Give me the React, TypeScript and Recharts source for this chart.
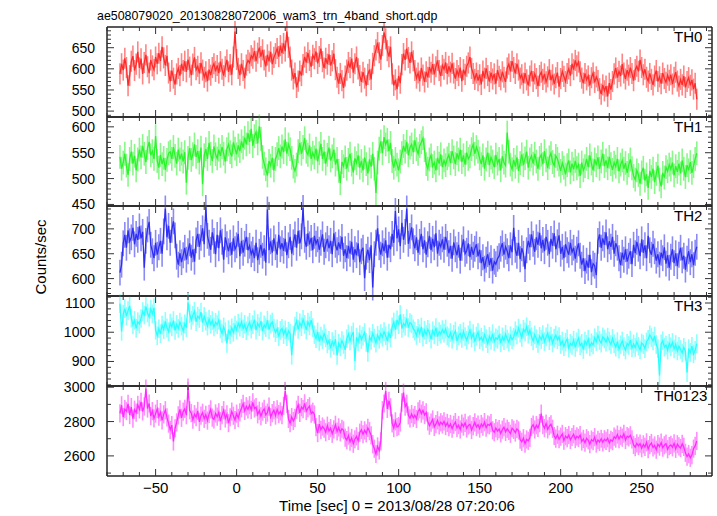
import { LineChart, Line, XAxis, YAxis, ErrorBar } from 'recharts';

const FONT = '"Liberation Sans", Arial, Helvetica, sans-serif';

const title = 'ae508079020_20130828072006_wam3_trn_4band_short.qdp';
const xLabel = 'Time [sec] 0 = 2013/08/28 07:20:06';
const yLabel = 'Counts/sec';

// 1 s bins, first bin centre
const tStart = -72;

const th0 = [
  588,612,597,625,603,560,584,618,630,596,611,640,602,624,588,615,633,605,590,621,
  607,598,628,612,637,619,652,626,608,631,590,571,596,578,563,588,601,584,612,596,
  618,593,622,604,585,611,627,598,606,589,614,597,580,593,571,598,585,603,612,594,
  608,590,617,599,584,605,621,593,610,586,628,688,622,601,585,612,596,578,609,620,
  614,631,625,642,618,637,650,629,645,621,606,633,618,640,611,627,636,648,629,655,
  637,660,642,688,651,628,597,576,590,556,571,595,584,610,628,615,638,620,605,632,
  624,641,613,629,648,617,602,625,611,634,608,619,636,598,580,565,589,572,555,583,
  597,615,603,624,591,612,628,600,584,569,592,578,560,587,598,575,613,631,645,662,
  638,622,655,686,671,643,629,652,588,561,574,552,583,566,610,636,621,648,627,614,
  640,619,596,578,590,571,602,585,569,593,580,604,592,611,587,605,620,596,583,608,
  599,615,588,606,592,613,590,577,596,584,603,571,598,587,606,614,628,601,589,575,
  590,572,586,563,595,578,601,584,570,591,576,588,565,597,582,574,593,580,569,602,
  611,594,618,603,589,612,597,578,586,566,590,574,561,583,595,570,588,577,559,584,
  592,575,588,569,581,598,573,586,564,579,591,558,577,594,582,570,589,600,584,612,
  598,620,607,616,593,578,566,589,574,583,561,579,590,568,581,572,553,540,562,548,
  559,535,566,551,570,588,602,579,594,583,611,590,576,597,585,603,589,572,598,606,
  594,621,603,586,599,580,571,589,575,562,583,596,570,581,565,590,577,568,585,573,
  586,564,580,592,571,559,575,562,583,556,570,579,561,574,552,566,528,
];

const th1 = [
  542,519,531,548,525,507,538,552,529,544,516,537,556,541,563,548,532,559,571,545,
  553,538,582,534,521,546,528,540,517,536,549,552,538,561,544,529,556,537,548,533,
  551,492,540,559,536,547,566,542,553,531,560,489,545,557,538,569,548,534,562,547,
  539,556,544,561,548,533,557,566,551,543,570,558,547,564,553,572,560,579,566,588,
  571,596,563,582,590,568,601,577,542,529,518,506,534,525,540,516,538,547,559,543,
  562,551,576,548,566,557,540,523,515,527,553,569,548,561,578,552,546,564,538,550,
  541,558,533,549,567,538,552,529,546,560,535,543,556,527,538,515,491,532,524,541,
  519,536,548,527,512,539,530,545,521,534,516,541,528,510,537,523,548,519,472,531,
  558,572,549,580,566,575,553,569,534,521,538,527,516,533,549,563,552,571,545,560,
  566,551,574,557,548,563,570,578,555,528,519,537,545,524,531,516,540,529,547,522,
  535,526,539,546,530,553,541,528,549,537,556,532,545,527,550,538,543,557,566,548,
  561,552,539,528,545,519,537,550,526,541,533,522,546,529,538,516,543,531,525,589,
  552,527,518,536,523,541,515,530,547,526,539,552,521,537,544,529,548,533,519,540,
  546,528,553,535,520,541,549,532,525,544,538,527,515,530,521,508,526,535,512,529,
  518,534,520,527,505,531,516,524,538,522,545,529,516,537,526,541,519,533,548,524,
  535,520,542,528,517,531,523,538,514,527,535,519,530,511,526,537,520,505,498,516,
  507,490,512,521,496,508,482,515,503,519,493,509,525,498,485,511,502,522,514,527,
  518,531,506,524,513,529,510,535,519,503,526,516,532,511,524,538,549,
];

const th2 = [
  612,628,671,688,662,697,675,683,702,669,690,678,705,681,694,622,676,699,714,668,
  655,641,672,648,663,676,650,695,741,683,706,672,698,715,687,644,628,651,633,647,
  662,638,655,671,642,659,634,677,690,664,682,701,669,744,686,672,658,693,676,649,
  688,661,697,674,638,683,669,655,672,648,681,659,667,690,645,676,652,670,684,657,
  666,649,658,641,672,637,654,668,646,661,632,739,657,675,652,681,663,648,688,659,
  671,656,680,647,667,684,650,673,689,662,696,671,685,743,678,664,691,669,682,657,
  686,670,679,658,672,689,654,667,680,661,676,649,691,668,657,673,660,684,646,659,
  641,666,650,674,638,659,647,671,633,655,662,601,644,658,637,667,582,649,672,701,
  663,648,671,655,677,642,668,659,690,672,736,681,699,665,712,678,694,741,670,686,
  703,675,661,683,652,674,690,659,677,648,669,686,657,680,663,691,650,672,664,679,
  658,684,670,651,666,640,673,659,647,668,636,662,679,650,656,671,643,664,648,660,
  669,645,658,631,643,620,638,649,627,641,616,634,629,640,645,660,671,648,664,655,
  641,667,653,702,658,646,672,639,661,650,619,657,676,663,689,670,654,683,668,692,
  661,678,655,684,672,649,680,666,691,659,673,687,650,664,641,669,657,648,672,653,
  662,640,658,671,646,628,641,615,636,622,648,613,630,626,607,676,689,662,681,668,
  693,659,675,664,684,650,671,662,641,627,652,638,659,634,646,655,629,668,651,674,
  660,645,679,652,667,641,686,657,648,670,655,636,649,628,652,641,663,630,647,622,
  644,659,631,651,625,648,662,637,646,618,640,655,633,649,627,652,664,
];

const th3 = [
  1098,1003,1062,1081,1055,1074,1090,1048,1025,1041,1013,1036,1028,1047,1071,1059,1088,1066,1052,1079,
  1063,1084,1007,988,1012,995,1024,1009,1037,1015,1002,1031,1018,1040,1006,1027,1013,1035,1021,1004,
  1029,1016,1102,1063,1041,1058,1072,1036,1055,1047,1069,1033,1054,1038,1021,1045,1027,1040,1018,1034,
  1026,1042,1011,996,1018,1002,962,1009,993,1015,1000,1024,1008,1031,1017,1036,1012,1027,1005,1022,
  1034,1011,1026,1043,1007,1030,1019,1038,1004,1025,1016,1041,1009,1028,1035,1014,999,1012,985,1006,
  1013,992,1008,985,1004,996,921,990,1021,1038,1010,1032,1019,1044,1027,1008,1035,1022,1041,1016,
  992,978,1001,969,987,975,995,981,960,972,945,968,955,976,921,962,950,971,958,940,
  978,994,970,989,1001,902,983,968,992,975,987,999,965,931,984,972,996,980,963,990,
  976,995,983,1002,988,970,997,981,1018,1035,1009,1042,1026,1061,1013,1030,1021,1047,1016,1033,
  1028,1012,1004,989,1013,996,1018,983,1007,992,1010,998,976,1005,991,1016,985,1002,994,1009,
  997,1011,988,982,999,976,993,1004,970,988,996,979,1002,985,973,991,1007,980,995,968,
  987,1000,974,983,969,992,978,961,986,973,995,968,981,976,990,964,984,971,993,977,
  966,988,975,983,1005,991,1014,997,982,1010,1001,1019,993,1007,985,970,991,978,962,986,
  975,992,968,984,997,971,987,963,980,990,974,985,958,970,951,966,977,946,962,955,
  973,948,967,980,954,962,941,970,959,976,950,964,957,981,968,990,972,963,984,977,
  966,983,970,958,979,961,949,968,942,957,970,951,939,962,955,973,946,960,948,967,
  952,940,963,958,944,967,976,991,982,970,987,958,944,852,960,971,949,956,939,962,
  950,965,943,958,936,952,941,929,948,935,862,944,931,952,926,938,961,
];

const th0123 = [
  2848,2895,2826,2872,2861,2903,2838,2884,2817,2869,2852,2897,2871,2914,2859,2888,2992,2876,2905,2832,
  2861,2819,2846,2873,2828,2855,2807,2842,2866,2824,2788,2752,2779,2684,2761,2795,2836,2871,2822,2858,
  2874,2837,2998,2866,2849,2811,2843,2825,2862,2798,2834,2851,2816,2839,2806,2845,2871,2823,2812,2847,
  2829,2854,2803,2837,2866,2818,2842,2791,2825,2858,2834,2809,2846,2821,2854,2877,2903,2862,2889,2871,
  2895,2868,2912,2876,2884,2842,2863,2831,2858,2874,2839,2852,2887,2826,2849,2866,2835,2871,2844,2859,
  2838,2892,2978,2903,2815,2791,2826,2803,2822,2869,2897,2851,2884,2872,2906,2861,2878,2889,2846,2857,
  2841,2768,2733,2785,2752,2771,2759,2738,2776,2745,2762,2729,2754,2781,2742,2766,2737,2758,2749,2706,
  2692,2718,2683,2705,2671,2697,2714,2688,2735,2752,2726,2749,2731,2763,2744,2720,2668,2642,2611,2655,
  2632,2684,2866,2905,2978,2874,2921,2883,2789,2762,2801,2768,2774,2795,2912,2968,2887,2904,2836,2819,
  2844,2822,2837,2815,2859,2872,2846,2865,2838,2853,2801,2776,2794,2812,2769,2785,2807,2778,2796,2783,
  2801,2774,2792,2768,2786,2759,2781,2797,2763,2779,2754,2788,2771,2792,2760,2777,2784,2751,2773,2795,
  2768,2782,2759,2786,2771,2797,2764,2783,2778,2791,2749,2738,2762,2744,2756,2731,2753,2767,2740,2758,
  2745,2729,2761,2752,2736,2757,2748,2694,2682,2703,2671,2696,2688,2705,2768,2782,2754,2779,2763,2791,
  2846,2779,2762,2788,2755,2773,2784,2758,2716,2701,2723,2697,2712,2728,2689,2715,2704,2722,2693,2710,
  2726,2698,2714,2705,2721,2684,2699,2677,2703,2691,2668,2695,2686,2709,2672,2693,2681,2700,2679,2697,
  2688,2703,2675,2694,2686,2712,2701,2724,2698,2717,2706,2729,2693,2715,2708,2720,2696,2664,2651,2673,
  2658,2671,2645,2667,2652,2679,2640,2663,2675,2649,2661,2636,2668,2654,2677,2648,2662,2671,2639,2657,
  2664,2650,2673,2641,2668,2655,2646,2670,2652,2618,2596,2611,2589,2605,2642,2658,2687,
];

const bandNames = ['TH0', 'TH1', 'TH2', 'TH3', 'TH0123'];
const bandValues = [th0, th1, th2, th3, th0123];
const bandErr = [25, 23, 26, 32, 53];
const lineColors = ['#ff2a2a', '#2af52a', '#2e2ef5', '#2affff', '#ff2aff'];
const errColors = ['#ff8585', '#8af78a', '#8a8af7', '#8effff', '#ff8eff'];
const yDomains = [[486, 699], [447, 619], [565, 746], [816, 1124], [2483, 3007]];
const yMajor = [[500, 550, 600, 650], [450, 500, 550, 600], [600, 650, 700], [900, 1000, 1100], [2600, 2800, 3000]];
const yMinorStep = [10, 10, 10, 20, 100];
const xDomain = [-80, 293.4];
const xMajor = [-50, 0, 50, 100, 150, 200, 250];

const W = 717;
const H = 516;
const PLOT_L = 107;
const PLOT_R = 712;
const PAD = 10; // room above/below each panel so edge labels are not clipped
const panelEdges = [27, 117, 206, 296, 386, 476];
const frame = { stroke: '#222', strokeWidth: 1.5 };
const tickStroke = '#333';

function steps(from, to, step) {
  const out = [];
  for (let v = Math.ceil(from / step) * step; v <= to; v += step) out.push(v);
  return out;
}

const xTicks = steps(-80, 293, 10);

const fmt = (v) => (v < 0 ? '\u2212' + Math.abs(v) : String(v));

function xTick(dir, withLabels) {
  return (p) => {
    const v = p.payload.value;
    const major = xMajor.includes(v);
    const len = major ? 7 : 4;
    return (
      <g>
        <line x1={p.x} x2={p.x} y1={p.y} y2={p.y + dir * len} stroke={tickStroke} strokeWidth={1} />
        {withLabels && major && (
          <text x={p.x} y={p.y + 17} textAnchor="middle" fontSize={15} fontFamily={FONT} fill="#000">
            {fmt(v)}
          </text>
        )}
      </g>
    );
  };
}

function yTick(dir, majors, withLabels) {
  return (p) => {
    const v = p.payload.value;
    const major = majors.includes(v);
    const len = major ? 7 : 4;
    return (
      <g>
        <line x1={p.x} x2={p.x + dir * len} y1={p.y} y2={p.y} stroke={tickStroke} strokeWidth={1} />
        {withLabels && major && (
          <text x={p.x - 12} y={p.y} dy="0.36em" textAnchor="end" fontSize={14} fontFamily={FONT} fill="#000">
            {v}
          </text>
        )}
      </g>
    );
  };
}

function Panel({ idx }) {
  const top = panelEdges[idx];
  const h = panelEdges[idx + 1] - top;
  const last = idx === bandNames.length - 1;
  const padBottom = last ? 36 : PAD;
  const data = bandValues[idx].map((v, i) => ({ t: tStart + i, v, err: bandErr[idx] }));
  const [lo, hi] = yDomains[idx];
  const yTicks = steps(lo, hi, yMinorStep[idx]);

  return (
    <div style={{ position: 'absolute', left: 0, top: top - 1 - PAD }}>
      <LineChart
        width={W}
        height={h + 2 + PAD + padBottom}
        data={data}
        margin={{ top: PAD, right: W - PLOT_R - 1, bottom: padBottom, left: PLOT_L - 1 }}
      >
        <XAxis xAxisId="b" dataKey="t" type="number" domain={xDomain} allowDataOverflow
          ticks={xTicks} interval={0} height={1} tickSize={0} tickMargin={0}
          axisLine={frame} tick={xTick(-1, last)} />
        <XAxis xAxisId="t" orientation="top" dataKey="t" type="number" domain={xDomain} allowDataOverflow
          ticks={xTicks} interval={0} height={1} tickSize={0} tickMargin={0}
          axisLine={frame} tick={xTick(1, false)} />
        <YAxis yAxisId="l" type="number" domain={[lo, hi]} allowDataOverflow
          ticks={yTicks} interval={0} width={1} tickSize={0} tickMargin={0}
          axisLine={frame} tick={yTick(1, yMajor[idx], true)} />
        <YAxis yAxisId="r" orientation="right" type="number" domain={[lo, hi]} allowDataOverflow
          ticks={yTicks} interval={0} width={1} tickSize={0} tickMargin={0}
          axisLine={frame} tick={yTick(-1, yMajor[idx], false)} />
        <Line xAxisId="b" yAxisId="l" dataKey="v" type="linear" stroke={lineColors[idx]}
          strokeWidth={1.3} dot={false} activeDot={false} isAnimationActive={false}>
          <ErrorBar dataKey="err" direction="y" width={0} stroke={errColors[idx]} strokeWidth={1.6}
            isAnimationActive={false} />
        </Line>
      </LineChart>
    </div>
  );
}

export default function App() {
  return (
    <div style={{ position: 'absolute', left: 0, top: 0, width: W, height: H, background: '#fff' }}>
      {bandNames.map((n, i) => (
        <Panel key={n} idx={i} />
      ))}
      <svg width={W} height={H} style={{ position: 'absolute', left: 0, top: 0, pointerEvents: 'none' }}>
        <text x={97} y={20} fontSize={12.4} fontFamily={FONT} fill="#000">{title}</text>
        {bandNames.map((n, i) => (
          <text key={n} x={i === 4 ? 654 : 674} y={panelEdges[i] + 15} fontSize={15} fontFamily={FONT} fill="#000">
            {n}
          </text>
        ))}
        <text x={397} y={511} textAnchor="middle" fontSize={15} fontFamily={FONT} fill="#000">{xLabel}</text>
        <text x={46} y={257} transform="rotate(-90 46 257)" textAnchor="middle" fontSize={15} fontFamily={FONT} fill="#000">
          {yLabel}
        </text>
      </svg>
    </div>
  );
}
